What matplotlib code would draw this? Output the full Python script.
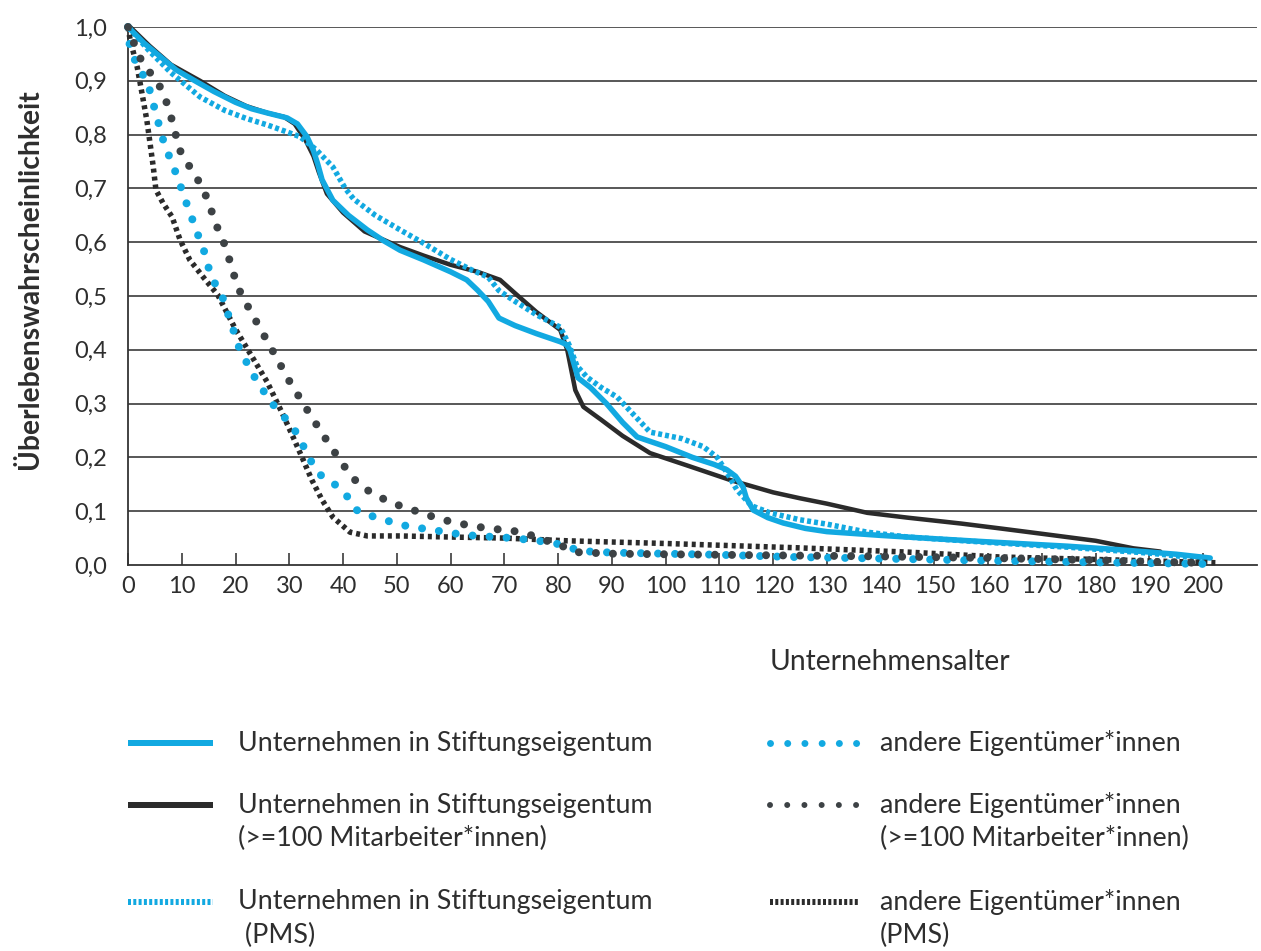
import matplotlib
matplotlib.use("Agg")
import matplotlib.pyplot as plt
from matplotlib.lines import Line2D

plt.rcParams['font.family'] = ['Lato', 'DejaVu Sans']
plt.rcParams['lines.scale_dashes'] = False

# ---------------- data ----------------
stift_x = [0, 3, 6, 9, 12.8, 16, 20, 23, 26, 29.6, 31.5, 33.3, 34.5, 35.3, 36.1, 38.1, 41, 44.5, 47.5, 50.6,
           55, 60, 63, 65, 67, 69, 72, 76, 80.4, 81.5, 82.2, 83.7, 86, 89, 92, 94.7, 100, 105, 109, 111.4,
           113, 114.4, 115, 116.3, 119, 121.9, 126, 130, 134.3, 140, 149.8, 160, 174.7, 185, 195, 201.3]
stift_y = [1.0, 0.97, 0.945, 0.92, 0.898, 0.88, 0.86, 0.848, 0.84, 0.831, 0.82, 0.796, 0.77, 0.745, 0.716,
           0.678, 0.65, 0.623, 0.603, 0.585, 0.567, 0.545, 0.53, 0.511, 0.49, 0.459, 0.445, 0.43, 0.415,
           0.41, 0.40, 0.348, 0.33, 0.30, 0.265, 0.238, 0.22, 0.2, 0.187, 0.177, 0.165, 0.145, 0.125, 0.102,
           0.088, 0.078, 0.068, 0.062, 0.059, 0.055, 0.049, 0.043, 0.035, 0.028, 0.02, 0.013]

stift100_x = [0.4, 4, 8, 13.4, 18, 22, 26, 29, 31, 33, 34.5, 35.5, 37, 40, 44, 50.6, 55, 60, 65, 69.2, 72,
              76, 80.4, 81.7, 82.5, 83.2, 84.7, 88, 92, 97.1, 104, 112, 120, 125, 130, 137.5, 145, 155,
              162.2, 170, 180, 187, 192]
stift100_y = [1.0, 0.965, 0.93, 0.9, 0.872, 0.853, 0.84, 0.833, 0.82, 0.79, 0.76, 0.73, 0.69, 0.655, 0.62,
              0.591, 0.575, 0.558, 0.545, 0.530, 0.505, 0.47, 0.437, 0.40, 0.36, 0.325, 0.294, 0.27, 0.24,
              0.208, 0.185, 0.158, 0.135, 0.124, 0.114, 0.097, 0.088, 0.077, 0.068, 0.058, 0.045, 0.031, 0.025]

stiftpms_x = [0, 4, 8, 13.4, 18, 22, 25.9, 29, 32, 35, 38.1, 40.4, 42, 46, 50.6, 55, 60, 64, 67, 69, 72, 76,
              80.4, 82, 83.5, 85.4, 88, 91, 94, 97.1, 103, 107, 109.6, 111.5, 113.3, 116, 119.4, 125, 130,
              137.5, 145, 160, 175, 190, 200]
stiftpms_y = [1.0, 0.955, 0.915, 0.87, 0.845, 0.83, 0.818, 0.807, 0.796, 0.772, 0.74, 0.70, 0.68, 0.65,
              0.623, 0.598, 0.568, 0.548, 0.535, 0.51, 0.49, 0.465, 0.442, 0.41, 0.37, 0.349, 0.33, 0.312,
              0.28, 0.247, 0.235, 0.22, 0.2, 0.17, 0.139, 0.11, 0.097, 0.084, 0.076, 0.061, 0.052, 0.042,
              0.033, 0.022, 0.012]

andere_x = [0, 0.4, 1.9, 3.7, 4.5, 5.4, 6.1, 7.2, 8.4, 9.5, 10.6, 11.7, 12.8, 14, 14.8, 15.8, 17.5, 20.8,
            23.5, 25.3, 27.3, 29.5, 31.4, 34.2, 36.1, 38.9, 41, 42.8, 46, 49, 52, 55.4, 58.6, 61.8, 64.9,
            71.7, 77.9, 81, 84, 90, 100, 110, 123, 140, 160, 180, 200]
andere_y = [1.0, 0.957, 0.926, 0.896, 0.864, 0.833, 0.803, 0.771, 0.742, 0.712, 0.68, 0.65, 0.619, 0.589,
            0.558, 0.53, 0.50, 0.40, 0.35, 0.322, 0.294, 0.27, 0.245, 0.19, 0.164, 0.147, 0.125, 0.099,
            0.089, 0.08, 0.072, 0.067, 0.062, 0.057, 0.054, 0.05, 0.043, 0.037, 0.026, 0.023, 0.021, 0.019,
            0.015, 0.012, 0.008, 0.005, 0.002]

andere100_x = [0, 2, 3.9, 5.8, 7.1, 8, 8.9, 9.7, 11.3, 13, 14.5, 15.6, 16.7, 18, 19, 19.9, 21, 24, 26.8,
               30.5, 32.2, 33.9, 35.7, 37.4, 39.3, 41.1, 43.2, 46.1, 49.1, 51.9, 55.1, 58.2, 61.2, 64.4,
               67.7, 70.9, 74.2, 77.6, 80.4, 83.2, 90, 100, 120, 140, 160, 180, 190, 200]
andere100_y = [1.0, 0.946, 0.918, 0.892, 0.862, 0.833, 0.799, 0.77, 0.743, 0.716, 0.686, 0.656, 0.625,
               0.595, 0.563, 0.533, 0.504, 0.45, 0.40, 0.333, 0.307, 0.279, 0.251, 0.225, 0.197, 0.171,
               0.147, 0.13, 0.115, 0.106, 0.095, 0.085, 0.078, 0.072, 0.067, 0.065, 0.058, 0.046, 0.037,
               0.024, 0.021, 0.02, 0.018, 0.016, 0.013, 0.009, 0.006, 0.004]

anderepms_x = [0, 0.4, 1.7, 2.6, 3.5, 4.1, 4.7, 5.2, 6.5, 8.2, 9.7, 11.5, 14, 16.7, 19.9, 22.3, 25.9, 28.7,
               30.7, 32.6, 34.2, 36.1, 38.1, 41.3, 44.5, 50.6, 60, 70, 81.7, 100, 124.5, 145, 162, 185, 203]
anderepms_y = [1.0, 0.976, 0.926, 0.877, 0.827, 0.784, 0.74, 0.697, 0.673, 0.647, 0.604, 0.567, 0.535,
               0.502, 0.44, 0.40, 0.34, 0.282, 0.238, 0.195, 0.158, 0.121, 0.089, 0.061, 0.054, 0.054, 0.052,
               0.05, 0.045, 0.04, 0.032, 0.024, 0.015, 0.009, 0.004]

x_ticks = list(range(0, 201, 10))
y_ticks = [i / 10 for i in range(0, 11)]
y_ticklabels = [f"{v:.1f}".replace(".", ",") for v in y_ticks]

legend_col1 = ["Unternehmen in Stiftungseigentum",
               "Unternehmen in Stiftungseigentum\n(>=100 Mitarbeiter*innen)",
               "Unternehmen in Stiftungseigentum\n (PMS)"]
legend_col2 = ["andere Eigentümer*innen",
               "andere Eigentümer*innen\n(>=100 Mitarbeiter*innen)",
               "andere Eigentümer*innen\n(PMS)"]

# ---------------- styles ----------------
BLUE = '#12A9E1'
BLACK = '#2B2B2B'
DGRAY = '#3D4245'
TXT = '#2E2E2E'
W, H = 1261, 951
px = 72 / 100  # points per pixel

fig = plt.figure(figsize=(W / 100, H / 100), dpi=100)
ax = fig.add_axes([128 / W, 1 - 565 / H, (1257 - 128) / W, (565 - 27) / H])

ax.set_xlim(0, 210)
ax.set_ylim(0, 1.0)

for yv in y_ticks[1:]:
    ax.axhline(yv, color='#333333', lw=1.6 * px, zorder=1)

styles = dict(
    stift=dict(color=BLUE, lw=5.5 * px, solid_capstyle='round', zorder=4),
    stift100=dict(color=BLACK, lw=4.5 * px, solid_capstyle='round', zorder=3),
    stiftpms=dict(color=BLUE, lw=5.5 * px, dashes=(4 * px, 3 * px), dash_capstyle='butt', zorder=5),
    andere=dict(color=BLUE, lw=8 * px, dashes=(0.01, 17 * px), dash_capstyle='round', zorder=6),
    andere100=dict(color=DGRAY, lw=8 * px, dashes=(0.01, 17 * px), dash_capstyle='round', zorder=6),
    anderepms=dict(color=BLACK, lw=5.5 * px, dashes=(4 * px, 4 * px), dash_capstyle='butt', zorder=5),
)

ax.plot(stift100_x, stift100_y, clip_on=False, **styles['stift100'])
ax.plot(stift_x, stift_y, clip_on=False, **styles['stift'])
ax.plot(stiftpms_x, stiftpms_y, clip_on=False, **styles['stiftpms'])
ax.plot(anderepms_x, anderepms_y, clip_on=False, **styles['anderepms'])
ax.plot(andere_x, andere_y, clip_on=False, **styles['andere'])
ax.plot(andere100_x, andere100_y, clip_on=False, **styles['andere100'])

for s in ['top', 'right']:
    ax.spines[s].set_visible(False)
for s in ['left', 'bottom']:
    ax.spines[s].set_color('#333333')
    ax.spines[s].set_linewidth(1.8 * px)

ax.set_xticks(x_ticks)
ax.set_xticklabels([str(v) for v in x_ticks])
ax.set_yticks(y_ticks)
ax.set_yticklabels(y_ticklabels)
ax.tick_params(axis='x', direction='in', length=12 * px, width=1.6 * px, color='#333333',
               labelsize=17, labelcolor=TXT, pad=8)
ax.tick_params(axis='y', length=0, labelsize=17, labelcolor=TXT, pad=15)

fig.text(30 / W, 1 - 279 / H, "Überlebenswahrscheinlichkeit", rotation=90, ha='center', va='center',
         fontsize=20.3, fontweight='bold', color=TXT)
fig.text(770 / W, 1 - 662 / H, "Unternehmensalter", ha='left', va='center', fontsize=20.3, color=TXT)

# ---------------- legend ----------------
rows_y = [743, 805, 902]
line_gap = 33
col_handle = [(128, 213), (770, 858)]
col_text = [238, 880]
leg_styles = [
    [dict(color=BLUE, lw=6 * px, solid_capstyle='butt'),
     dict(color=BLACK, lw=6 * px, solid_capstyle='butt'),
     dict(color=BLUE, lw=6 * px, dashes=(3 * px, 2.3 * px), dash_capstyle='butt')],
    [dict(color=BLUE, lw=7 * px, dashes=(0.01, 17.2 * px), dash_capstyle='round'),
     dict(color=DGRAY, lw=6 * px, dashes=(0.01, 17.2 * px), dash_capstyle='round'),
     dict(color=BLACK, lw=6 * px, dashes=(3 * px, 2.3 * px), dash_capstyle='butt')],
]
labels = [legend_col1, legend_col2]
for c in range(2):
    x0, x1 = col_handle[c]
    for r in range(3):
        yy = 1 - rows_y[r] / H
        fig.add_artist(Line2D([x0 / W, x1 / W], [yy, yy], transform=fig.transFigure, **leg_styles[c][r]))
        for k, line in enumerate(labels[c][r].split("\n")):
            fig.text(col_text[c] / W, 1 - (rows_y[r] + k * line_gap) / H, line, ha='left', va='center',
                     fontsize=19.3, color=TXT)

fig.savefig("out.png", dpi=100)
